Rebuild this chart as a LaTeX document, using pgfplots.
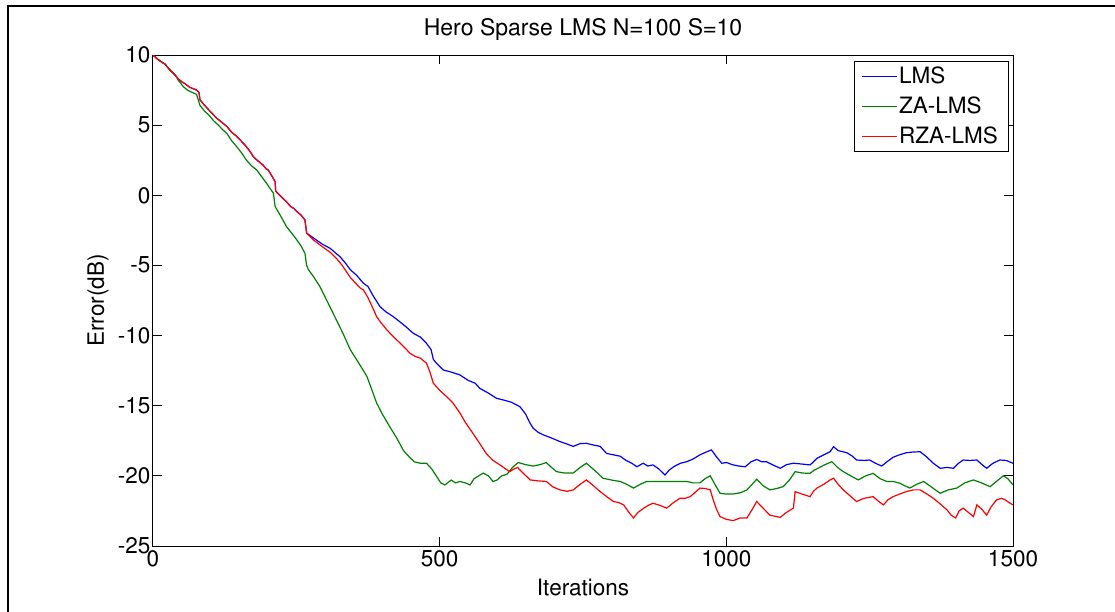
\documentclass[border=0pt]{standalone}
\usepackage[T1]{fontenc}
\usepackage{helvet}
\renewcommand{\familydefault}{\sfdefault}
\usepackage{pgfplots}
\pgfplotsset{compat=1.18}
\newcommand\fs{\fontsize{22.5}{27}\selectfont}
\definecolor{mblue}{RGB}{0,0,255}
\definecolor{mgreen}{RGB}{0,128,0}
\definecolor{mred}{RGB}{255,0,0}
\begin{document}
\begin{tikzpicture}
\useasboundingbox (-153pt,-65pt) rectangle (962pt,546pt);
\begin{axis}[
  scale only axis,
  width=860pt, height=491pt,
  xmin=0, xmax=1500, ymin=-25, ymax=10,
  xtick={0,500,1000,1500}, xticklabels={0,500,1000,1500},
  ytick={-25,-20,-15,-10,-5,0,5,10},
  yticklabels={-25,-20,-15,-10,-5,0,5,10},
  tick align=inside, major tick length=9pt,
  every tick/.style={black, line width=1pt},
  axis line style={line width=1pt},
  tick label style={font=\fs},
  xticklabel style={yshift=-1pt},
  yticklabel style={xshift=1pt},
  title={Hero Sparse LMS N=100 S=10},
  title style={font=\fontsize{23}{27}\selectfont, at={(axis description cs:0.5,1)}, anchor=center, yshift=20pt},
  xlabel={Iterations},
  xlabel style={font=\fs, at={(axis description cs:0.5,0)}, anchor=center, yshift=-42pt},
  ylabel={Error(dB)},
  ylabel style={font=\fs, at={(axis description cs:0,0.5)}, anchor=center, yshift=55pt},
  legend style={font=\fs, at={(1,1)}, anchor=north east, xshift=-5pt, yshift=-6pt,
    draw=black, inner xsep=8pt, inner ysep=4pt, row sep=8pt},
  legend cell align=left,
  legend image code/.code={\path[#1, draw=none, fill] (0pt,-0.7pt) rectangle (35pt,0.7pt);},
]
\addplot[color=mblue, line width=1.2pt] coordinates {
(0,10) (8,9.7) (15,9.5) (21,9.35) (28,9.0) (33,8.8) (40,8.5) (44,8.3) (50,8.1) (56,7.95) (64,7.7) (70,7.6) (76,7.5) (80,7.35) (82,6.8) (88,6.5) (97,6.1) (104,5.8) (111,5.5) (120,5.2) (129,4.9) (137,4.5) (146,4.2) (153,3.9) (160,3.6) (168,3.2) (175,2.75) (183,2.45) (192,2.15) (197,1.9) (201,1.8) (207,1.4) (213,0.97) (214,0.3) (220,0.05) (226,-0.2) (233,-0.47) (240,-0.8) (246,-0.95) (251,-1.17) (258,-1.4) (265,-1.76) (268,-2.7)
(275,-2.9) (285,-3.19) (296,-3.5) (309,-3.78) (318,-4.1) (326,-4.37) (335,-4.8) (344,-5.3) (355,-5.7) (367,-6.27) (375,-6.5) (383,-7.1) (396,-7.94) (406,-8.3) (419,-8.65) (430,-9.0) (442,-9.4) (454,-9.84) (466,-10.1) (477,-10.55) (485,-11.0) (489,-11.7) (495,-12.0) (506,-12.45) (520,-12.6) (535,-12.8) (550,-13.2) (562,-13.4) (570,-13.76) (585,-14.1) (599,-14.47) (612,-14.6) (625,-14.75) (640,-15.07) (650,-15.6) (657,-16.2) (663,-16.6) (672,-16.9) (681,-17.08) (695,-17.3) (710,-17.56) (720,-17.7) (733,-17.9) (745,-17.7) (756,-17.68) (768,-17.8) (780,-17.9) (791,-18.4) (803,-18.5) (815,-18.6) (825,-18.9) (835,-19.1) (844,-19.35) (855,-19.1) (863,-19.3) (872,-19.22) (882,-19.5) (893,-19.94) (900,-19.6) (908,-19.35) (920,-19.1) (931,-18.99) (942,-18.8) (954,-18.5) (965,-18.3) (974,-18.15) (982,-18.6) (992,-19.1) (1000,-19.05) (1012,-19.22) (1022,-19.3) (1033,-19.35) (1043,-19.0) (1053,-18.83) (1062,-19.0) (1070,-18.99) (1080,-19.2) (1094,-19.46) (1105,-19.2) (1117,-19.1) (1130,-19.15) (1146,-19.22) (1152,-19.0) (1158,-18.75) (1170,-18.5) (1181,-18.28) (1187,-17.92) (1195,-18.2) (1210,-18.35) (1220,-18.6) (1227,-18.87) (1240,-18.9) (1250,-18.87) (1260,-19.1) (1271,-19.3) (1280,-19.0) (1291,-18.67) (1302,-18.5) (1314,-18.35) (1326,-18.3) (1338,-18.28) (1348,-18.6) (1361,-19.1) (1373,-19.46) (1385,-19.4) (1396,-19.46) (1405,-19.1) (1413,-18.87) (1425,-18.9) (1437,-18.87) (1446,-19.2) (1454,-19.46) (1465,-19.1) (1477,-18.87) (1488,-18.9) (1500,-19.1)
};
\addlegendentry{LMS}
\addplot[color=mgreen, line width=1.2pt] coordinates {
(0,10) (8,9.7) (15,9.5) (21,9.35) (28,9.0) (33,8.8) (40,8.5) (44,8.2) (53,7.74) (60,7.5) (70,7.3) (76,7.2) (82,6.4) (90,6.0) (98,5.7) (106,5.3) (114,5.0) (121,4.7) (129,4.4) (137,3.9) (146,3.46) (155,3.0) (163,2.5) (172,2.1) (181,1.8) (190,1.3) (198,0.86) (204,0.5) (210,0.15) (213,-0.8) (223,-1.5) (233,-2.24) (242,-2.7) (251,-3.19) (258,-3.6) (265,-4.13) (268,-5.0) (271,-5.3) (280,-5.8) (291,-6.5) (297,-6.99) (308,-7.9) (320,-8.9) (332,-9.9) (344,-11.0) (358,-11.9) (373,-12.9) (382,-13.9) (390,-14.8) (400,-15.6) (413,-16.5) (425,-17.3) (437,-18.2) (448,-18.7) (456,-19.0) (466,-19.1) (477,-19.1) (486,-19.5) (495,-20.06) (502,-20.5) (509,-20.65) (520,-20.3) (528,-20.5) (535,-20.4) (545,-20.5) (553,-20.65) (560,-20.2) (568,-20.0) (576,-19.8) (585,-20.0) (593,-20.4) (600,-20.3) (608,-20.0) (617,-19.9) (627,-19.4) (637,-19.05) (650,-19.2) (663,-19.3) (675,-19.2) (686,-19.05) (695,-19.4) (704,-19.7) (718,-19.8) (733,-19.8) (745,-19.4) (756,-19.1) (770,-19.6) (785,-20.17) (800,-20.3) (815,-20.4) (826,-20.6) (838,-20.87) (850,-20.6) (861,-20.4) (880,-20.4) (902,-20.4) (915,-20.4) (931,-20.4) (942,-20.5) (954,-20.5) (963,-20.2) (972,-20.0) (980,-20.6) (989,-21.24) (1000,-21.3) (1012,-21.29) (1025,-21.2) (1036,-21.0) (1045,-20.6) (1053,-20.24) (1064,-20.7) (1076,-21.0) (1088,-20.9) (1099,-20.77) (1110,-20.3) (1120,-19.7) (1133,-19.8) (1146,-19.82) (1153,-19.6) (1160,-19.46) (1172,-19.2) (1184,-18.99) (1194,-19.4) (1204,-19.7) (1217,-20.0) (1230,-20.29) (1243,-20.0) (1256,-19.82) (1268,-20.2) (1280,-20.4) (1291,-20.4) (1303,-20.53) (1311,-20.7) (1320,-20.87) (1332,-20.6) (1344,-20.4) (1358,-20.8) (1373,-21.24) (1387,-21.0) (1402,-20.87) (1416,-20.5) (1431,-20.29) (1445,-20.5) (1460,-20.77) (1471,-20.4) (1483,-20.0) (1491,-20.2) (1500,-20.65)
};
\addlegendentry{ZA-LMS}
\addplot[color=mred, line width=1.2pt] coordinates {
(0,10) (8,9.7) (15,9.5) (21,9.35) (28,9.0) (33,8.8) (40,8.5) (44,8.3) (50,8.1) (56,7.95) (64,7.7) (70,7.6) (76,7.5) (80,7.35) (82,6.8) (88,6.5) (97,6.1) (104,5.8) (111,5.5) (120,5.2) (129,4.9) (137,4.5) (146,4.2) (153,3.9) (160,3.6) (168,3.2) (175,2.75) (183,2.45) (192,2.15) (197,1.9) (201,1.8) (207,1.4) (213,0.97) (214,0.3) (220,0.05) (226,-0.2) (233,-0.47) (240,-0.8) (246,-0.95) (251,-1.17) (258,-1.4) (265,-1.76) (268,-2.7)
(280,-3.19) (290,-3.5) (300,-3.8) (310,-4.1) (320,-4.5) (330,-5.0) (344,-5.85) (352,-6.2) (361,-6.6) (367,-6.75) (375,-7.3) (383,-8.0) (390,-8.65) (398,-9.1) (408,-9.6) (419,-10.07) (430,-10.5) (440,-10.9) (448,-11.26) (458,-11.5) (466,-11.6) (477,-11.97) (483,-12.6) (489,-13.4) (500,-13.9) (512,-14.35) (523,-14.8) (535,-15.5) (545,-16.2) (558,-16.97) (570,-17.7) (581,-18.4) (593,-18.9) (605,-19.22) (615,-19.5) (622,-19.7) (630,-19.5) (636,-19.4) (640,-19.58) (648,-19.9) (658,-20.29) (670,-20.35) (686,-20.4) (698,-20.8) (710,-21.0) (722,-21.1) (733,-21.0) (745,-20.6) (756,-20.29) (768,-20.7) (780,-21.12) (792,-21.5) (803,-21.83) (812,-21.9) (821,-22.07) (830,-22.6) (838,-23.0) (846,-22.6) (856,-22.3) (864,-22.1) (872,-21.95) (884,-22.1) (896,-22.3) (908,-21.9) (919,-21.6) (928,-21.6) (937,-21.48) (945,-21.2) (954,-20.87) (963,-20.9) (972,-21.0) (977,-21.7) (983,-22.4) (989,-22.9) (1000,-23.1) (1012,-23.19) (1024,-23.0) (1036,-23.0) (1045,-22.4) (1053,-21.83) (1064,-22.3) (1076,-22.8) (1094,-22.96) (1105,-22.6) (1117,-22.3) (1120,-21.12) (1132,-21.3) (1146,-21.48) (1152,-21.1) (1158,-20.87) (1170,-20.6) (1181,-20.29) (1187,-20.17) (1195,-20.6) (1204,-21.0) (1215,-21.4) (1227,-21.83) (1240,-21.6) (1256,-21.48) (1265,-21.8) (1274,-22.07) (1282,-21.7) (1291,-21.48) (1302,-21.3) (1314,-21.12) (1326,-21.0) (1338,-21.0) (1350,-21.3) (1361,-21.6) (1373,-22.0) (1385,-22.43) (1392,-22.8) (1400,-23.0) (1406,-22.5) (1413,-22.3) (1422,-22.6) (1431,-22.9) (1437,-22.07) (1446,-22.4) (1454,-22.8) (1462,-22.2) (1471,-21.72) (1480,-21.6) (1486,-21.7) (1493,-21.9) (1500,-22.07)
};
\addlegendentry{RZA-LMS}
\end{axis}
\draw[line width=2.5pt] (-145pt,-66pt) -- (-145pt,540pt) -- (963pt,540pt);
\end{tikzpicture}
\end{document}
